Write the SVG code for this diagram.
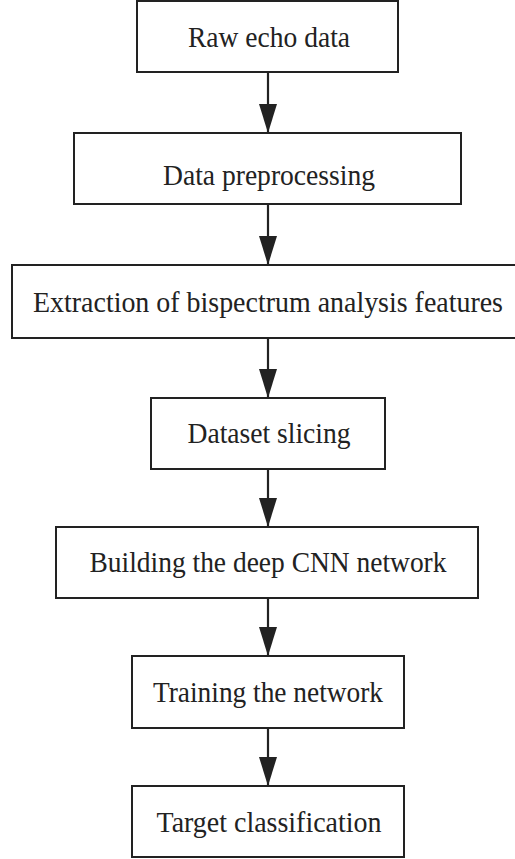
<svg xmlns="http://www.w3.org/2000/svg" width="515" height="859" viewBox="0 0 515 859">
<style>
.box{fill:#fff;stroke:#222;stroke-width:2}
.lbl{font-family:"Liberation Serif","Times New Roman",serif;font-size:30px;fill:#222;text-anchor:middle}
.conn{stroke:#222;stroke-width:2.2;fill:none}
</style>
<defs>
<marker id="ah" markerUnits="userSpaceOnUse" markerWidth="30" markerHeight="18" refX="29" refY="9" orient="auto">
<path d="M0,0 L29,9 L0,18 Z" fill="#222"/>
</marker>
</defs>
<rect width="515" height="859" fill="#fff"/>
<g id="connectors">
<line class="conn" x1="268" y1="72" x2="268" y2="133" marker-end="url(#ah)"/>
<line class="conn" x1="268" y1="204" x2="268" y2="265" marker-end="url(#ah)"/>
<line class="conn" x1="268" y1="338" x2="268" y2="398" marker-end="url(#ah)"/>
<line class="conn" x1="268" y1="469" x2="268" y2="527" marker-end="url(#ah)"/>
<line class="conn" x1="268" y1="598" x2="268" y2="656" marker-end="url(#ah)"/>
<line class="conn" x1="268" y1="728" x2="268" y2="786" marker-end="url(#ah)"/>
</g>
<g id="n1"><rect class="box" x="137" y="1" width="261" height="71"/><text class="lbl" x="269" y="47" textLength="162" lengthAdjust="spacingAndGlyphs">Raw echo data</text></g>
<g id="n2"><rect class="box" x="74" y="133" width="387" height="71"/><text class="lbl" x="269" y="185" textLength="212" lengthAdjust="spacingAndGlyphs">Data preprocessing</text></g>
<g id="n3"><rect class="box" x="12" y="265" width="510" height="73"/><text class="lbl" x="268" y="312" textLength="470" lengthAdjust="spacingAndGlyphs">Extraction of  bispectrum analysis features</text></g>
<g id="n4"><rect class="box" x="151" y="398" width="234" height="71"/><text class="lbl" x="269" y="443" textLength="163" lengthAdjust="spacingAndGlyphs">Dataset slicing</text></g>
<g id="n5"><rect class="box" x="56" y="527" width="422" height="71"/><text class="lbl" x="268" y="572" textLength="357" lengthAdjust="spacingAndGlyphs">Building the deep CNN network</text></g>
<g id="n6"><rect class="box" x="132" y="656" width="272" height="72"/><text class="lbl" x="268" y="702" textLength="230" lengthAdjust="spacingAndGlyphs">Training the network</text></g>
<g id="n7"><rect class="box" x="132" y="786" width="272" height="71"/><text class="lbl" x="269" y="832" textLength="225" lengthAdjust="spacingAndGlyphs">Target classification</text></g>
</svg>
